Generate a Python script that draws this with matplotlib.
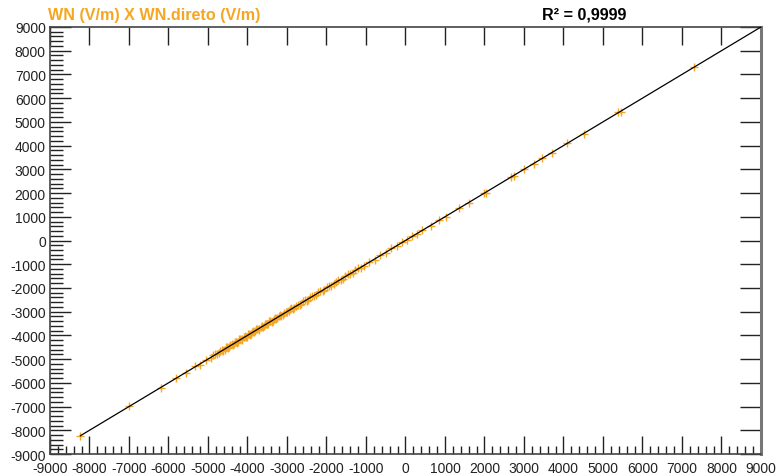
import numpy as np
import matplotlib.pyplot as plt
from matplotlib.ticker import MultipleLocator

plt.rcParams['font.family'] = ['Liberation Sans', 'DejaVu Sans']
plt.rcParams['axes.unicode_minus'] = False

# WN (V/m) vs WN.direto (V/m)
wn = [-8230, -6990, -6180, -5820, -5560, -5330, -5210, -5050, -4930, -4810,
      -4720, -4650, -4580, -4520, -4460, -4400, -4350, -4290, -4240, -4180,
      -4130, -4070, -4020, -3960, -3910, -3860, -3800, -3750, -3700, -3640,
      -3590, -3530, -3480, -3420, -3360, -3300, -3240, -3170, -3100, -3030,
      -2960, -2890, -2810, -2730, -2640, -2550, -2460, -2370, -2270, -2160,
      -2050, -1930, -1820, -1700, -1580, -1460, -1330, -1200, -1060, -920,
      -780, -640, -500, -360, -220, -90, 40, 160, 300, 430,
      640, 850, 1030, 1350, 1600, 1980, 2050, 2660, 2750, 3000,
      3250, 3450, 3700, 4080, 4520, 5380, 5450, 7300,
      -4870, -4760, -4690, -4610, -4550, -4490, -4430, -4370, -4310, -4260,
      -4210, -4150, -4100, -4040, -3990, -3930, -3880, -3830, -3780, -3720,
      -3670, -3610, -3560, -3500, -3450, -3390, -3330, -3270, -3200, -3140,
      -3070, -3000, -2920, -2850, -2770, -2680, -2600, -2500, -2410, -2320,
      -2210, -2100, -1990, -1880, -1760, -1640, -1520, -1400, -1270, -1130]
wn_direto = [-8250, -6970, -6210, -5790, -5590, -5300, -5240, -5020, -4960, -4780,
             -4750, -4620, -4610, -4490, -4490, -4370, -4380, -4260, -4270, -4150,
             -4160, -4040, -4050, -3930, -3940, -3830, -3830, -3720, -3730, -3610,
             -3620, -3500, -3510, -3390, -3390, -3270, -3270, -3140, -3130, -3000,
             -2990, -2860, -2840, -2700, -2670, -2520, -2490, -2340, -2300, -2130,
             -2080, -1900, -1850, -1670, -1610, -1430, -1360, -1170, -1090, -890,
             -810, -610, -530, -330, -250, -60, 10, 190, 270, 460,
             610, 880, 1000, 1380, 1570, 2010, 2020, 2690, 2720, 3030,
             3220, 3480, 3670, 4110, 4490, 5410, 5420, 7330,
             -4830, -4800, -4650, -4650, -4510, -4530, -4400, -4410, -4280, -4300,
             -4170, -4190, -4060, -4080, -3950, -3970, -3850, -3860, -3740, -3760,
             -3640, -3650, -3520, -3540, -3410, -3430, -3300, -3300, -3170, -3170,
             -3040, -3030, -2890, -2880, -2740, -2710, -2570, -2530, -2380, -2350,
             -2180, -2130, -1960, -1910, -1730, -1670, -1490, -1430, -1240, -1160]

# regression line end points
fit_x = [-8230, 9000]
fit_y = [-8230, 9000]

fig = plt.figure(figsize=(7.76, 4.77), dpi=100)
ax = fig.add_axes([0.0644, 0.0461, 0.9162, 0.8952])

ax.plot(wn, wn_direto, '+', color='#F5A623', ms=5.5, mew=1.0, zorder=2)
ax.plot(fit_x, fit_y, '-', color='black', lw=0.9, zorder=3)

ax.set_xlim(-9000, 9000)
ax.set_ylim(-9000, 9000)
ax.xaxis.set_major_locator(MultipleLocator(1000))
ax.yaxis.set_major_locator(MultipleLocator(1000))
ax.xaxis.set_minor_locator(MultipleLocator(200))
ax.yaxis.set_minor_locator(MultipleLocator(200))

ax.tick_params(axis='x', which='major', direction='in', length=13, width=1,
               top=True, bottom=True, labelsize=10, pad=5, color='#222222')
ax.tick_params(axis='x', which='minor', direction='in', length=6, width=1,
               top=False, bottom=True, color='#222222')
ax.tick_params(axis='y', which='major', direction='in', length=15, width=1,
               left=True, right=True, labelsize=10, pad=3, color='#222222')
ax.tick_params(axis='y', which='minor', direction='in', length=9, width=1,
               left=True, right=False, color='#222222')
for lab in ax.get_xticklabels() + ax.get_yticklabels():
    lab.set_color('#222222')

for side in ['left', 'bottom', 'top']:
    ax.spines[side].set_color('#444444')
    ax.spines[side].set_linewidth(1.2)
ax.spines['right'].set_color('#777777')
ax.spines['right'].set_linewidth(2.2)

fig.text(0.062, 0.968, 'WN (V/m) X WN.direto (V/m)', color='#F5A623',
         fontsize=11.6, fontweight='bold', ha='left', va='center')
fig.text(0.753, 0.968, 'R² = 0,9999', color='black',
         fontsize=11.6, fontweight='bold', ha='center', va='center')

fig.savefig('out.png', dpi=100)
